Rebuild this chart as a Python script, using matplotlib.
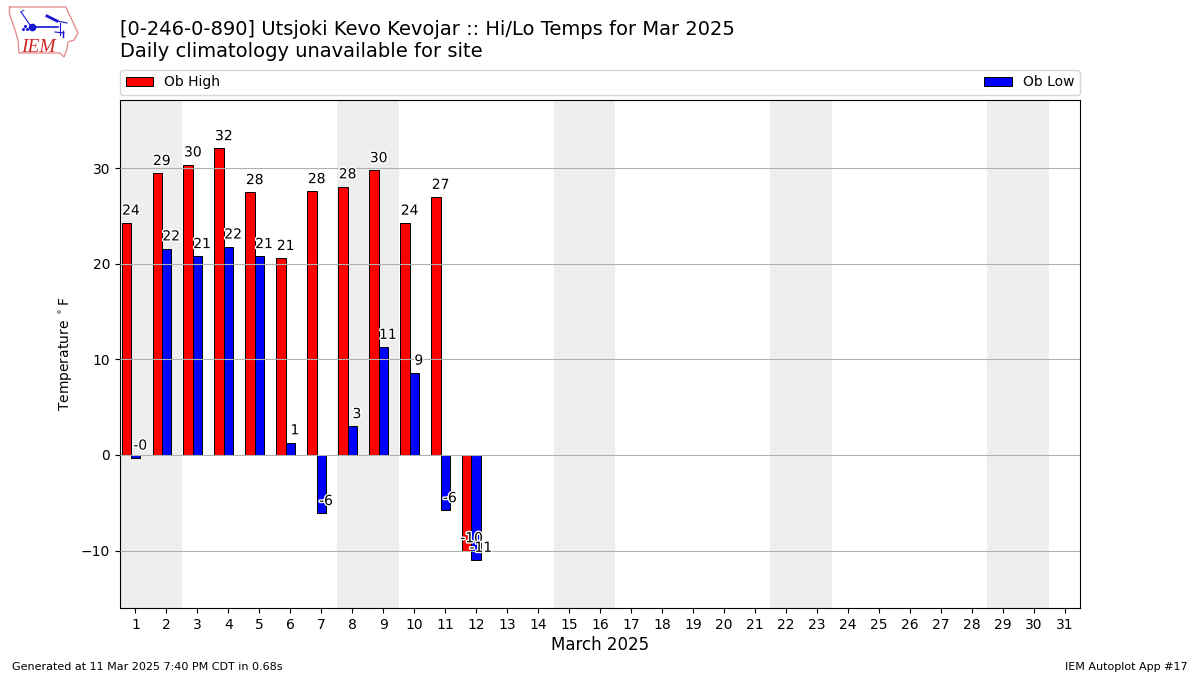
import matplotlib
matplotlib.use("Agg")
import matplotlib.pyplot as plt
import matplotlib.patheffects as PathEffects
import numpy as np

days = list(range(1, 13))
ob_high = [24.3, 29.5, 30.4, 32.1, 27.5, 20.6, 27.6, 28.1, 29.8, 24.3, 27.0, -10.0]
ob_low = [-0.3, 21.6, 20.8, 21.8, 20.8, 1.3, -6.1, 3.0, 11.3, 8.6, -5.8, -11.0]
high_labels = ["24", "29", "30", "32", "28", "21", "28", "28", "30", "24", "27", "-10"]
low_labels = ["-0", "22", "21", "22", "21", "1", "-6", "3", "11", "9", "-6", "-11"]
weekends = [(1, 2), (8, 9), (15, 16), (22, 23), (29, 30)]
month_days = list(range(1, 32))

title_1 = "[0-246-0-890] Utsjoki Kevo Kevojar :: Hi/Lo Temps for Mar 2025"
title_2 = "Daily climatology unavailable for site"

fig = plt.figure(figsize=(12, 6.75), dpi=100)
ax = fig.add_axes([120 / 1200, 1 - 608 / 675, 960 / 1200, 508 / 675])

for start, end in weekends:
    ax.axvspan(start - 0.5, end + 0.5, color="#eeeeee", lw=0, zorder=1)

days_arr = np.array(days)
ax.bar(days_arr - 0.3, ob_high, width=0.3, color="r", edgecolor="k", lw=0.7, label="Ob High", zorder=2)
ax.bar(days_arr, ob_low, width=0.3, color="b", edgecolor="k", lw=0.7, label="Ob Low", zorder=2)

ax.grid(axis="y", color="#b0b0b0", lw=0.8, zorder=3)
ax.set_axisbelow(False)

# value labels sit just above the end of each bar
stroke = [PathEffects.withStroke(linewidth=2, foreground="white")]
for d, val, lab in zip(days, ob_high, high_labels):
    ax.text(d - 0.15, val + 0.55, lab, ha="center", va="bottom", fontsize=10, zorder=4, path_effects=stroke)
for d, val, lab in zip(days, ob_low, low_labels):
    ax.text(d + 0.15, val + 0.55, lab, ha="center", va="bottom", fontsize=10, zorder=4, path_effects=stroke)

ax.set_xlim(0.5, 31.5)
ax.set_ylim(-16.02, 37.17)
ax.set_xticks(month_days)
ax.set_yticks([-10, 0, 10, 20, 30])
ax.set_xlabel("March 2025", fontsize=12, labelpad=3)
ax.set_ylabel(r"Temperature $^\circ$F", fontsize=10)
ax.legend(loc="lower left", bbox_to_anchor=(0, 1.01, 1, 0.05), mode="expand", ncol=2, borderaxespad=0, fontsize=10)

fig.text(119.5 / 1200, 1 - 35 / 675, title_1, fontsize=14, va="baseline")
fig.text(119.5 / 1200, 1 - 57 / 675, title_2, fontsize=14, va="baseline")
fig.text(12 / 1200, 1 - 670 / 675, "Generated at 11 Mar 2025 7:40 PM CDT in 0.68s", fontsize=8, va="baseline")
fig.text(1188 / 1200, 1 - 670 / 675, "IEM Autoplot App #17", fontsize=8, ha="right", va="baseline")

# IEM logo, drawn in pixel space
logo = fig.add_axes([0, 1 - 60 / 675, 84 / 1200, 60 / 675])
logo.set_xlim(0, 84)
logo.set_ylim(60, 0)
logo.axis("off")
state_x = [9.5, 66, 68, 71, 78, 74, 68, 67, 64, 60, 19, 18, 15, 9.5, 9.5]
state_y = [7, 7, 12, 18, 33, 40, 42, 49, 57, 53, 53, 40, 30, 14, 7]
logo.plot(state_x, state_y, color="#e49090", lw=1)
logo.text(21, 52.5, "IEM", color="#d02828", family="Liberation Serif", style="italic", fontsize=14, va="baseline")
blue = "#1414d2"
logo.plot([31, 58], [26.5, 26.5], color=blue, lw=1.2)
logo.plot([21, 30], [12, 25], color=blue, lw=0.8)
logo.plot([21, 24], [12, 10], color=blue, lw=0.6)
logo.plot([31.5], [26.5], "o", color=blue, ms=4.5)
logo.plot([47, 57], [16, 21], color=blue, lw=2)
logo.plot([57, 67], [21, 23], color=blue, lw=0.8)
logo.plot([60, 60], [23, 35], color=blue, lw=0.8)
logo.plot([55, 64], [32, 33], color=blue, lw=0.8)
logo.plot([63, 63], [31, 37], color=blue, lw=1)
logo.plot([23, 25, 27], [29, 26, 29], "o", color=blue, ms=1.2)

fig.savefig("out.png", dpi=100)
